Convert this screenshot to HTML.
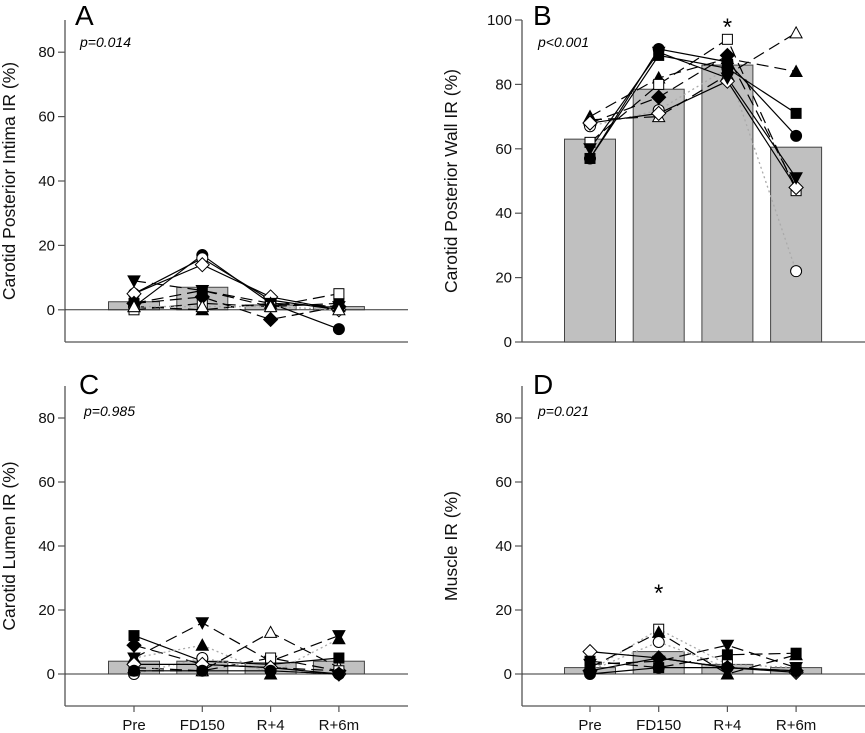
<!DOCTYPE html>
<html><head><meta charset="utf-8"><style>
body{margin:0;background:#fff}
svg{display:block;font-family:"Liberation Sans",Arial,sans-serif}
</style></head><body>
<svg id="fig" width="865" height="733" viewBox="0 0 865 733"></svg>
<script>
const categories=["Pre","FD150","R+4","R+6m"];
const barsA=[2.5,7,1.5,1];
const barsB=[63,78.5,86,60.5];
const barsC=[4,4,3.5,4];
const barsD=[2,7,3,2];
// series: [marker, style, values]
const seriesA=[
 ["fcircle","solid",[1,17,2,-6]],["ocircle","solid",[5,16,3,0]],["odiamond","solid",[5,14,4,0]],
 ["invtri","dash",[9,6,2,1]],["fsquare","dash",[2,6,1,2]],["osquare","dash",[0,2,1,5]],
 ["fdiamond","dash",[2,4,-3,1]],["ftri","dash",[1,0,2,1]],["otri","dot",[1,1,1,0]]];
const seriesB=[
 ["fcircle","solid",[57,91,87,64]],["ocircle","dot",[67,72,85,22]],["ftri","dash",[70,82,88,84]],
 ["otri","dash",[69,70,83,96]],["fsquare","solid",[57,89,85,71]],["osquare","dash",[62,80,94,47]],
 ["fdiamond","dash",[68,76,89,48]],["odiamond","solid",[68,71,81,48]],["invtri","solid",[60,90,82,51]]];
const seriesC=[
 ["fsquare","solid",[12,4,3,5]],["invtri","dash",[5,16,4,12]],["fdiamond","dash",[9,3,2,1]],
 ["ftri","dot",[5,9,0,11]],["otri","dash",[2,1,13,2]],["ocircle","dot",[0,5,1,0]],
 ["osquare","dash",[1,1,5,1]],["odiamond","solid",[3,3,2,0]],["fcircle","solid",[1,1,1,0]]];
const seriesD=[
 ["osquare","dot",[1,14,3,2]],["ftri","dash",[2,13,0,6]],["ocircle","dot",[1,10,2,1]],
 ["odiamond","solid",[7,5,2,0.5]],["invtri","dash",[3,4,9,2]],["fsquare","dash",[4,2,6,6.5]],
 ["fcircle","solid",[0,2,2,1]],["fdiamond","solid",[1,5,2,1]]];

const NS="http://www.w3.org/2000/svg";
const svg=document.getElementById("fig");
function el(tag,attrs,parent,text){const e=document.createElementNS(NS,tag);for(const k in attrs)e.setAttribute(k,attrs[k]);if(text!==undefined)e.textContent=text;(parent||svg).appendChild(e);return e;}

function panel(cfg){
 const g=el("g",{});
 
 
 const y=v=>cfg.y0-(v-cfg.vmin)*(cfg.y0-cfg.y1)/(cfg.vmax-cfg.vmin);
 const x=i=>cfg.cx[0]+i*cfg.step;
 const ya=el("line",{x1:cfg.ax,y1:y(cfg.vmax),x2:cfg.ax,y2:y(cfg.vmin),stroke:"#555","stroke-width":1.3},g);
 
 const xa=el("line",{x1:cfg.ax,y1:y(cfg.vmin),x2:cfg.right,y2:y(cfg.vmin),stroke:"#555","stroke-width":1.3},g);
 
 cfg.ticks.forEach(t=>{
  el("line",{x1:cfg.ax-7,y1:y(t),x2:cfg.ax,y2:y(t),stroke:"#555","stroke-width":1.2},g);
  const tl=el("text",{x:cfg.ax-10,y:y(t)+5,"text-anchor":"end","font-size":15,fill:"#111"},g,String(t));
  
 });
 cfg.bars.forEach((v,i)=>{
  const b=el("rect",{x:x(i)-25.5,y:Math.min(y(v),y(0)),width:51,height:Math.abs(y(0)-y(v)),fill:"#c0c0c0",stroke:"#444","stroke-width":1},g);
  
 });
 if(cfg.vmin<0){const z=el("line",{x1:cfg.ax,y1:y(0),x2:cfg.right,y2:y(0),stroke:"#333","stroke-width":1},g);
  }
 if(cfg.xlabels){categories.forEach((c,i)=>{
  el("line",{x1:x(i),y1:y(cfg.vmin),x2:x(i),y2:y(cfg.vmin)+6,stroke:"#555","stroke-width":1.2},g);
  const t=el("text",{x:x(i),y:y(cfg.vmin)+24,"text-anchor":"middle","font-size":15,fill:"#111"},g,c);
  
 });}
 cfg.series.forEach(s=>{
  const pts=s[2].map((v,i)=>x(i)+","+y(v)).join(" ");
  const at={points:pts,fill:"none",stroke:s[1]==="dot"?"#aaa":"#000","stroke-width":s[1]==="dot"?1.3:1.2};
  if(s[1]==="dash")at["stroke-dasharray"]="12,6";
  if(s[1]==="dot")at["stroke-dasharray"]="2,3";
  const p=el("polyline",at,g);
  
 });
 cfg.series.forEach(s=>{
  s[2].forEach((v,i)=>{const m=marker(s[0],x(i),y(v),g);
   });
 });
 const L=el("text",{x:cfg.letterX,y:cfg.letterY,"font-size":28,fill:"#000"},g,cfg.letter);
 
 const P=el("text",{x:cfg.letterX+5,y:cfg.letterY+22,"font-size":14,"font-style":"italic",fill:"#000"},g,cfg.p);
 
 const yl=el("text",{x:0,y:0,"text-anchor":"middle","font-size":17.5,fill:"#111",transform:`translate(${cfg.ylx},${(y(cfg.vmin)+y(cfg.vmax))/2}) rotate(-90)`},g,cfg.ylabel);
 
 if(cfg.star!==undefined){const st=el("text",{x:x(cfg.star),y:cfg.starY,"text-anchor":"middle","font-size":24,fill:"#000"},g,"*");
  }
}
function marker(t,cx,cy,g){
 const fill=t[0]==="f"||t==="invtri"?"#000":"#fff";
 const a={fill:fill,stroke:"#000","stroke-width":1};
 const r=5.5;
 if(t.endsWith("circle"))return el("circle",Object.assign({cx,cy,r},a),g);
 if(t.endsWith("square"))return el("rect",Object.assign({x:cx-5,y:cy-5,width:10,height:10},a),g);
 if(t.endsWith("diamond"))return el("polygon",Object.assign({points:`${cx},${cy-7} ${cx+7},${cy} ${cx},${cy+7} ${cx-7},${cy}`},a),g);
 if(t==="invtri")return el("polygon",Object.assign({points:`${cx-6},${cy-5} ${cx+6},${cy-5} ${cx},${cy+6}`},a),g);
 return el("polygon",Object.assign({points:`${cx-6},${cy+5} ${cx+6},${cy+5} ${cx},${cy-6}`},a),g);
}
panel({name:"panel-a",letter:"A",p:"p=0.014",ylabel:"Carotid Posterior Intima IR (%)",ax:65,right:408,y0:342,y1:20,vmin:-10,vmax:90,ticks:[0,20,40,60,80],cx:[134],step:68.3,bars:barsA,series:seriesA,letterX:75,letterY:25,ylx:15,xlabels:false});
panel({name:"panel-b",letter:"B",p:"p<0.001",ylabel:"Carotid Posterior Wall IR (%)",ax:522,right:865,y0:342,y1:20,vmin:0,vmax:100,ticks:[0,20,40,60,80,100],cx:[590],step:68.7,bars:barsB,series:seriesB,letterX:533,letterY:25,ylx:457,xlabels:false,star:2,starY:35});
panel({name:"panel-c",letter:"C",p:"p=0.985",ylabel:"Carotid Lumen IR (%)",ax:65,right:408,y0:706,y1:386,vmin:-10,vmax:90,ticks:[0,20,40,60,80],cx:[134],step:68.3,bars:barsC,series:seriesC,letterX:79,letterY:394,ylx:15,xlabels:true});
panel({name:"panel-d",letter:"D",p:"p=0.021",ylabel:"Muscle IR (%)",ax:522,right:865,y0:706,y1:386,vmin:-10,vmax:90,ticks:[0,20,40,60,80],cx:[590],step:68.7,bars:barsD,series:seriesD,letterX:533,letterY:394,ylx:457,xlabels:true,star:1,starY:601});
</script>
</body></html>
